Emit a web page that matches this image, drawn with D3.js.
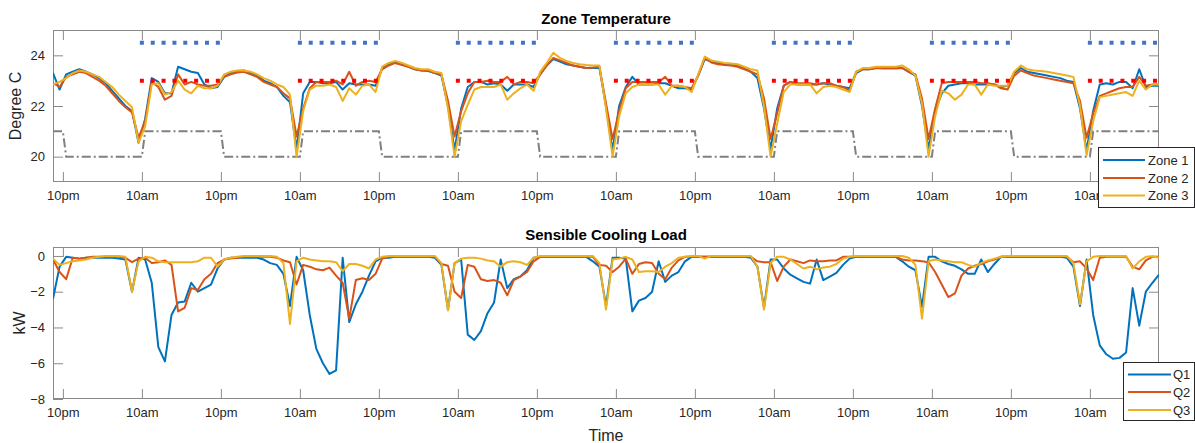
<!DOCTYPE html>
<html>
<head>
<meta charset="utf-8">
<script src="https://cdn.jsdelivr.net/npm/d3@7"></script>
<style>
  body { margin: 0; background: #fff; }
  svg { display: block; font-family: "Liberation Sans", Arial, Helvetica, sans-serif; }
</style>
</head>
<body>
<svg id="chart" width="1195" height="443"></svg>
<script>
// ---- time base: hourly samples, hours counted from the first 10pm ----
const firstSampleHour = -1.5;   // 8:30pm
const lastSampleHour = 166.5;

const tickHours  = [0, 12, 24, 36, 48, 60, 72, 84, 96, 108, 120, 132, 144, 156];
const tickLabels = ["10pm", "10am", "10pm", "10am", "10pm", "10am", "10pm",
                    "10am", "10pm", "10am", "10pm", "10am", "10pm", "10am"];

// ---- zone temperatures (degC), one row per day, 8:30pm -> 7:30pm ----
const zone1 = [
  23.3,22.65,23.25,23.35,23.45,23.35,23.25,23.1,22.9,22.6,22.3,22.0,21.8,20.55,21.5,23.1,22.95,22.5,22.5,23.55,23.45,23.35,23.3,22.85,
  22.7,22.75,23.15,23.3,23.38,23.4,23.3,23.2,23.0,22.9,22.75,22.4,22.15,20.3,22.5,22.95,22.95,22.9,22.9,22.95,22.65,22.9,22.85,22.85,
  22.85,22.8,23.5,23.65,23.72,23.65,23.55,23.45,23.4,23.38,23.3,23.2,22.0,20.25,21.9,22.75,22.95,22.95,22.85,22.9,22.85,22.6,22.85,22.85,
  22.85,22.75,23.25,23.6,23.85,23.75,23.65,23.6,23.55,23.5,23.5,23.5,22.0,20.25,22.0,22.75,23.15,22.85,22.85,22.85,22.9,22.9,22.8,22.7,
  22.7,22.65,23.2,23.85,23.75,23.7,23.65,23.62,23.6,23.5,23.35,23.1,21.9,20.3,21.9,22.8,22.95,22.85,22.85,22.85,22.85,22.9,22.85,22.8,
  22.75,22.7,23.3,23.45,23.45,23.5,23.5,23.5,23.5,23.5,23.35,23.2,22.0,20.3,21.8,22.5,22.8,22.85,22.9,22.9,22.85,22.85,22.85,22.85,
  22.75,22.8,23.3,23.5,23.35,23.3,23.25,23.2,23.15,23.1,23.0,22.95,21.9,20.25,21.8,22.85,22.9,22.85,22.95,22.95,22.7,23.45,22.75,22.8,
  22.8
];
const zone2 = [
  22.9,22.75,23.15,23.25,23.35,23.3,23.15,23.0,22.8,22.5,22.2,21.95,21.75,20.75,21.4,22.95,22.75,22.25,22.4,23.25,22.85,22.95,22.85,22.8,
  22.8,22.85,23.15,23.25,23.32,23.35,23.25,23.15,22.95,22.85,22.75,22.5,22.3,20.8,21.9,22.7,22.95,22.95,22.95,23.0,22.85,23.35,22.8,22.95,
  23.0,22.95,23.45,23.6,23.7,23.62,23.55,23.45,23.4,23.4,23.3,23.25,22.2,20.8,21.8,22.5,22.95,22.95,23.0,22.95,22.95,23.15,22.85,22.95,
  22.95,22.9,23.25,23.6,23.9,23.8,23.7,23.6,23.55,23.5,23.52,23.55,22.1,20.7,21.8,22.7,22.95,22.95,22.95,22.95,22.95,23.15,22.8,22.8,
  22.75,22.7,23.2,23.9,23.72,23.65,23.62,23.6,23.55,23.45,23.35,23.25,22.3,20.7,21.7,22.8,22.95,22.9,22.9,22.9,22.85,22.9,22.9,22.8,
  22.75,22.6,23.35,23.45,23.45,23.5,23.48,23.48,23.48,23.5,23.35,23.25,22.3,20.7,21.9,22.9,22.95,22.95,22.95,22.95,22.95,22.9,22.9,22.85,
  22.7,22.65,23.2,23.4,23.3,23.2,23.15,23.1,23.05,23.0,22.95,22.9,22.2,20.75,21.7,22.4,22.5,22.6,22.7,22.75,22.75,23.15,22.8,22.85,
  22.85
];
const zone3 = [
  22.85,22.95,23.1,23.3,23.4,23.35,23.25,23.15,22.95,22.75,22.45,22.2,21.95,20.55,21.2,22.85,22.9,22.45,22.55,23.0,22.65,22.5,22.8,22.7,
  22.7,22.8,23.25,23.35,23.4,23.4,23.35,23.25,23.1,23.0,22.85,22.75,22.45,20.0,21.8,22.65,22.8,22.8,22.85,22.75,22.2,22.7,22.45,22.8,
  22.85,22.55,23.55,23.7,23.78,23.7,23.6,23.5,23.45,23.45,23.35,23.3,21.9,20.0,21.4,22.05,22.65,22.75,22.75,22.75,22.85,22.25,22.5,22.7,
  22.85,22.6,23.35,23.7,24.1,23.9,23.78,23.7,23.65,23.62,23.6,23.6,21.9,20.0,21.6,22.5,22.75,22.85,22.85,22.85,22.85,22.45,22.8,22.8,
  22.75,22.55,23.25,23.95,23.8,23.75,23.7,23.68,23.65,23.55,23.45,23.4,22.0,20.0,21.3,22.55,22.85,22.85,22.85,22.85,22.5,22.75,22.8,22.75,
  22.65,22.55,23.35,23.5,23.5,23.55,23.55,23.55,23.55,23.6,23.45,23.2,22.1,20.0,21.6,22.6,22.5,22.25,22.45,22.85,22.85,22.45,22.85,22.8,
  22.8,22.8,23.35,23.6,23.45,23.4,23.38,23.35,23.3,23.25,23.2,23.15,22.0,20.05,21.4,22.35,22.4,22.45,22.5,22.55,22.4,23.0,22.65,22.85,
  22.85
];

// ---- setpoint schedules ----
const heatSchedHours = [-1.5,0,0.5,12,12.5,24,24.5,36,36.5,48,48.5,60,60.5,72,72.5,84,84.5,96,96.5,108,108.5,120,120.5,132,132.5,144,144.5,156,156.5,166.5];
const heatSchedTemp  = [21,21,20,20,21,21,20,20,21,21,20,20,21,21,20,20,21,21,20,20,21,21,20,20,21,21,20,20,21,21];
const occupiedStart  = [12, 36, 60, 84, 108, 132, 156];
const occupiedEnd    = [24, 48, 72, 96, 120, 144, 166.5];
const coolLimit = 24.5;
const targetTemp = 23;

// ---- sensible cooling load (kW), same time base ----
const q1 = [
  -2.4,-0.6,-0.05,-0.1,-0.15,-0.1,-0.1,-0.1,-0.1,-0.1,-0.15,-0.2,-2.0,-0.1,-0.2,-1.5,-5.1,-5.9,-3.3,-2.6,-2.55,-1.5,-2.0,-1.8,
  -1.6,-0.7,-0.2,-0.1,-0.1,-0.1,-0.1,-0.1,-0.2,-0.4,-0.5,-1.0,-2.8,-0.05,-0.8,-3.3,-5.2,-6.0,-6.6,-6.4,-0.1,-3.7,-2.7,-2.0,
  -1.1,-0.3,-0.1,-0.1,-0.05,-0.05,-0.05,-0.05,-0.05,-0.05,-0.1,-0.5,-3.0,-0.4,-0.2,-4.4,-4.7,-4.2,-3.2,-2.6,-0.2,-1.8,-1.3,-1.15,
  -0.8,-0.1,-0.05,-0.05,-0.05,-0.05,-0.05,-0.05,-0.05,-0.05,-0.3,-0.6,-2.8,-0.1,-0.1,-0.15,-3.1,-2.5,-2.35,-2.0,-0.3,-1.45,-1.1,-0.9,
  -0.3,-0.05,-0.05,-0.05,-0.05,-0.05,-0.05,-0.05,-0.05,-0.05,-0.1,-0.6,-2.9,-0.2,-0.2,-0.7,-1.05,-1.25,-1.45,-1.55,-0.2,-1.35,-1.15,-0.95,
  -0.5,-0.15,-0.05,-0.05,-0.05,-0.05,-0.05,-0.05,-0.05,-0.3,-0.6,-0.8,-2.85,-0.05,-0.05,-0.3,-0.45,-0.55,-0.75,-1.0,-1.0,-0.2,-0.9,-0.45,
  -0.05,-0.05,-0.05,-0.05,-0.05,-0.05,-0.05,-0.05,-0.05,-0.05,-0.1,-0.6,-2.8,-0.2,-3.3,-5.0,-5.5,-5.75,-5.7,-5.4,-1.8,-3.9,-2.0,-1.5,
  -1.05
];
const q2 = [
  -0.2,-0.9,-1.3,-0.1,-0.15,-0.1,-0.05,-0.05,-0.05,-0.05,-0.05,-0.1,-0.35,-0.15,-0.1,-0.4,-0.35,-0.25,-0.5,-3.1,-2.9,-1.8,-1.9,-1.3,
  -1.0,-0.4,-0.2,-0.15,-0.1,-0.05,-0.05,-0.05,-0.05,-0.05,-0.1,-0.25,-0.35,-1.6,-0.5,-0.6,-0.75,-0.8,-0.65,-1.1,-1.5,-3.5,-1.35,-1.25,
  -1.35,-1.0,-0.15,-0.05,-0.05,-0.05,-0.05,-0.05,-0.05,-0.05,-0.05,-0.45,-0.55,-2.0,-2.35,-0.5,-0.6,-1.3,-1.4,-1.35,-1.5,-2.2,-1.35,-1.15,
  -0.9,-0.3,-0.05,-0.05,-0.05,-0.05,-0.05,-0.05,-0.05,-0.05,-0.05,-0.5,-0.55,-0.9,-0.6,-0.15,-1.0,-0.45,-0.35,-0.4,-1.0,-1.3,-0.65,-0.25,
  -0.05,-0.05,-0.05,-0.05,-0.05,-0.05,-0.05,-0.05,-0.05,-0.05,-0.05,-0.3,-0.35,-0.35,-1.4,-0.6,-0.2,-0.3,-0.4,-0.25,-0.3,-0.3,-0.25,-0.25,
  -0.05,-0.05,-0.05,-0.05,-0.05,-0.05,-0.05,-0.05,-0.05,-0.2,-0.25,-0.25,-0.3,-0.35,-0.9,-1.6,-2.3,-2.1,-1.1,-0.7,-0.55,-0.45,-0.3,-0.2,
  -0.05,-0.05,-0.05,-0.05,-0.05,-0.05,-0.05,-0.05,-0.05,-0.05,-0.05,-0.35,-0.3,-0.7,-1.35,-0.1,-0.05,-0.05,-0.05,-0.05,-0.6,-0.75,-0.25,-0.05,
  -0.05
];
const q3 = [
  -0.15,-0.5,-0.4,-0.3,-0.25,-0.2,-0.1,-0.05,0,0,0,-0.05,-2.0,-0.3,-0.05,-0.1,-0.3,-0.35,-0.35,-0.35,-0.35,-0.35,-0.3,-0.1,
  -0.1,-0.6,-0.2,-0.1,-0.05,0,0,0,0,0,-0.05,-0.4,-3.8,-0.3,-0.1,-0.2,-0.25,-0.3,-0.3,-0.35,-0.85,-0.45,-0.45,-0.55,
  -0.7,-0.2,-0.05,0,0,0,0,0,0,0,0,-0.4,-3.05,-0.4,-0.15,-0.1,-0.1,-0.15,-0.25,-0.3,-0.6,-0.35,-0.3,-0.35,
  -0.5,-0.1,0,0,0,0,0,0,0,0,0,-0.4,-3.0,-0.2,-0.15,-0.05,-0.2,-0.9,-0.85,-0.85,-0.9,-0.6,-0.4,-0.1,
  -0.05,0,0,-0.15,0,0,0,0,0,0,0,-0.6,-3.0,-0.4,-0.05,-0.05,-0.2,-0.45,-0.7,-0.6,-0.75,-0.65,-0.6,-0.45,
  -0.15,-0.05,0,0,0,0,0,0,0,0,-0.1,-0.5,-3.5,-0.3,-0.2,-0.25,-0.3,-0.35,-0.35,-0.5,-0.6,-0.4,-0.25,-0.15,
  -0.05,0,0,0,0,0,0,0,0,0,0,-0.4,-2.7,-0.3,-0.05,0,0,0,0,0,-0.7,-0.3,-0.05,-0.02,
  -0.1
];

// ---- styling ----
const colors = { c1: "#0072BD", c2: "#D95319", c3: "#EDB120" };
const axisColor = "#8a8a8a";
const textColor = "#262626";

const hours = d3.range(firstSampleHour, lastSampleHour + 0.001, 1);
const svg = d3.select("#chart");

const plotLeft = 53, plotRight = 1159;
const x = d3.scaleLinear().domain([firstSampleHour, lastSampleHour]).range([plotLeft, plotRight]);

function drawAxesFrame(g, y, yTicks, top, bottom, id) {
  const tick = 10;
  // clip for data
  svg.append("clipPath").attr("id", id)
    .append("rect").attr("x", plotLeft).attr("y", top)
    .attr("width", plotRight - plotLeft).attr("height", bottom - top);

  const xb = g.append("g").attr("transform", `translate(0,${bottom})`)
    .call(d3.axisBottom(x).tickValues(tickHours).tickFormat((d, i) => tickLabels[i])
      .tickSizeInner(-tick).tickSizeOuter(0).tickPadding(9));
  const xt = g.append("g").attr("transform", `translate(0,${top})`)
    .call(d3.axisTop(x).tickValues(tickHours).tickFormat("")
      .tickSizeInner(-tick).tickSizeOuter(0));
  const yl = g.append("g").attr("transform", `translate(${plotLeft},0)`)
    .call(d3.axisLeft(y).tickValues(yTicks).tickFormat(d3.format("d"))
      .tickSizeInner(-tick).tickSizeOuter(0).tickPadding(8));
  const yr = g.append("g").attr("transform", `translate(${plotRight},0)`)
    .call(d3.axisRight(y).tickValues(yTicks).tickFormat("")
      .tickSizeInner(-tick).tickSizeOuter(0));
  [xb, xt, yl, yr].forEach(a => {
    a.select(".domain").remove();
    a.selectAll(".tick line").attr("stroke", axisColor).attr("stroke-width", 1);
    a.selectAll(".tick text").attr("fill", textColor)
      .style("font-size", "13px").style("font-family", "'Liberation Sans', Arial, sans-serif");
  });
  g.append("rect").attr("x", plotLeft + 0.5).attr("y", top + 0.5)
    .attr("width", plotRight - plotLeft - 1).attr("height", bottom - top - 1)
    .attr("fill", "none").attr("stroke", axisColor).attr("stroke-width", 1);
}

function drawLegend(g, entries, x0, y0, w, h, lineX0, lineX1, textX, rowY) {
  g.append("rect").attr("x", x0 + 0.5).attr("y", y0 + 0.5).attr("width", w).attr("height", h)
    .attr("fill", "#fff").attr("stroke", "#262626").attr("stroke-width", 1);
  entries.forEach((e, i) => {
    g.append("line").attr("x1", lineX0).attr("x2", lineX1)
      .attr("y1", rowY[i]).attr("y2", rowY[i])
      .attr("stroke", e.color).attr("stroke-width", 2);
    g.append("text").attr("x", textX).attr("y", rowY[i]).attr("dy", "0.35em")
      .attr("fill", textColor).style("font-size", "13px").text(e.label);
  });
}

// ================= Zone Temperature =================
{
  const top = 30, bottom = 182;
  const y = d3.scaleLinear().domain([19, 25]).range([bottom, top]);
  const g = svg.append("g");
  drawAxesFrame(g, y, [20, 22, 24], top, bottom, "clipTop");

  const data = g.append("g").attr("clip-path", "url(#clipTop)");

  // heating setpoint schedule
  const sched = heatSchedHours.map((h, i) => [h, heatSchedTemp[i]]);
  data.append("path").datum(sched)
    .attr("d", d3.line().x(d => x(d[0])).y(d => y(d[1])))
    .attr("fill", "none").attr("stroke", "#808080").attr("stroke-width", 2)
    .attr("stroke-dasharray", "9,3,2,3");

  const line = d3.line().x((d, i) => x(hours[i])).y(d => y(d));
  [[zone1, colors.c1], [zone2, colors.c2], [zone3, colors.c3]].forEach(([s, c]) => {
    data.append("path").datum(s).attr("d", line)
      .attr("fill", "none").attr("stroke", c).attr("stroke-width", 2)
      .attr("stroke-linejoin", "round");
  });

  // occupied-period limits, drawn as square dots
  occupiedStart.forEach((s, i) => {
    [[coolLimit, "#4472C4"], [targetTemp, "#FF0000"]].forEach(([v, c]) => {
      data.append("path").datum([[s, v], [occupiedEnd[i], v]])
        .attr("d", d3.line().x(d => x(d[0])).y(d => y(d[1])))
        .attr("fill", "none").attr("stroke", c).attr("stroke-width", 4)
        .attr("stroke-linecap", "square").attr("stroke-dasharray", "0.001,10.85");
    });
  });

  g.append("text").attr("x", (plotLeft + plotRight) / 2).attr("y", 24)
    .attr("text-anchor", "middle").attr("fill", "#000")
    .style("font-size", "15px").style("font-weight", "bold").text("Zone Temperature");
  g.append("text").attr("transform", `translate(21,${(top + bottom) / 2}) rotate(-90)`)
    .attr("text-anchor", "middle").attr("fill", textColor)
    .style("font-size", "16px").text("Degree C");

  drawLegend(g, [
    { label: "Zone 1", color: colors.c1 },
    { label: "Zone 2", color: colors.c2 },
    { label: "Zone 3", color: colors.c3 }
  ], 1098, 147, 96, 60, 1103, 1145, 1148, [160, 178, 195.5]);
}

// ================= Sensible Cooling Load =================
{
  const top = 247, bottom = 399;
  const y = d3.scaleLinear().domain([-8, 0.5]).range([bottom, top]);
  const g = svg.append("g");
  drawAxesFrame(g, y, [-8, -6, -4, -2, 0], top, bottom, "clipBottom");

  const data = g.append("g").attr("clip-path", "url(#clipBottom)");
  const line = d3.line().x((d, i) => x(hours[i])).y(d => y(d));
  [[q1, colors.c1], [q2, colors.c2], [q3, colors.c3]].forEach(([s, c]) => {
    data.append("path").datum(s).attr("d", line)
      .attr("fill", "none").attr("stroke", c).attr("stroke-width", 2)
      .attr("stroke-linejoin", "round");
  });

  g.append("text").attr("x", (plotLeft + plotRight) / 2).attr("y", 240)
    .attr("text-anchor", "middle").attr("fill", "#000")
    .style("font-size", "15px").style("font-weight", "bold").text("Sensible Cooling Load");
  g.append("text").attr("transform", `translate(25,${(top + bottom) / 2}) rotate(-90)`)
    .attr("text-anchor", "middle").attr("fill", textColor)
    .style("font-size", "16px").text("kW");
  g.append("text").attr("x", (plotLeft + plotRight) / 2).attr("y", 441)
    .attr("text-anchor", "middle").attr("fill", textColor)
    .style("font-size", "16px").text("Time");

  drawLegend(g, [
    { label: "Q1", color: colors.c1 },
    { label: "Q2", color: colors.c2 },
    { label: "Q3", color: colors.c3 }
  ], 1123, 362, 71, 58, 1128, 1171, 1173, [374.5, 392, 410]);
}
</script>
</body>
</html>
